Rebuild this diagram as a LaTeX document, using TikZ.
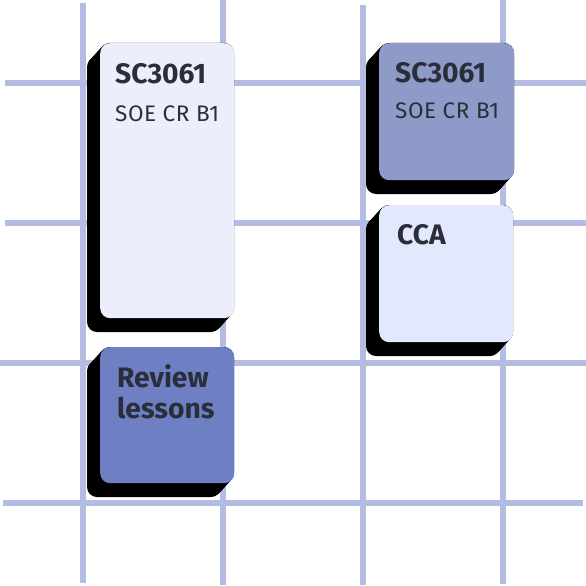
\documentclass[tikz,border=0pt]{standalone}
\usepackage{fontspec}
\setmainfont{Fira Sans}
\definecolor{gridc}{HTML}{B4BCE4}
\definecolor{fillA}{HTML}{ECEEFB}
\definecolor{fillB}{HTML}{8E9BC9}
\definecolor{fillC}{HTML}{E4E8FD}
\definecolor{fillD}{HTML}{6E7FC3}
\definecolor{txt}{HTML}{2A2E39}
\begin{document}
\begin{tikzpicture}[x=1pt,y=-1pt,
  gridline/.style={draw=gridc,line width=6pt},
  card/.style={rounded corners=10pt,inner sep=0pt,anchor=north west,draw=none},
  ttl/.style={anchor=base west,inner sep=0pt,text=txt,font=\fontsize{28.2}{33}\selectfont\bfseries},
  sub/.style={anchor=base west,inner sep=0pt,text=txt,font=\fontsize{22.5}{26}\selectfont\addfontfeature{LetterSpace=2.5}}]
\useasboundingbox (0,0) rectangle (586,586);
% grid
\draw[gridline] (83,3) -- (83,583);
\draw[gridline] (223,0) -- (223,585);
\draw[gridline] (363,5) -- (363,585);
\draw[gridline] (503,0) -- (503,584);
\draw[gridline] (5,82.5) -- (586,82.5);
\draw[gridline] (5,222.5) -- (586,222.5);
\draw[gridline] (0,362.5) -- (586,362.5);
\draw[gridline] (3,502.5) -- (583,502.5);
% shadows (extrusion)
\foreach \t in {0,0.5,...,13}{
  \fill[black,rounded corners=10pt] (100-\t,43+\t*14/13) rectangle (234-\t,318+\t*14/13);
  \fill[black,rounded corners=10pt] (379-\t,43+\t*14/13) rectangle (514-\t,180+\t*14/13);
  \fill[black,rounded corners=10pt] (379-\t,205+\t*14/13) rectangle (513-\t,342+\t*14/13);
  \fill[black,rounded corners=10pt] (100-\t,347+\t*14/13) rectangle (234-\t,483+\t*14/13);
}
% cards
\node[card,fill=fillA,minimum width=134pt,minimum height=275pt] (c1) at (100,43) {};
\node[card,fill=fillB,minimum width=135pt,minimum height=137pt] (c2) at (379,43) {};
\node[card,fill=fillC,minimum width=134pt,minimum height=137pt] (c3) at (379,205) {};
\node[card,fill=fillD,minimum width=134pt,minimum height=136pt] (c4) at (100,347) {};
% texts
\node[ttl] (t1) at (115,84) {SC3061};
\node[sub] (s1) at (115,121) {SOE CR B1};
\node[ttl] (t2) at (395,82) {SC3061};
\node[sub] (s2) at (395,118) {SOE CR B1};
\node[ttl] (t3) at (397,244) {CCA};
\node[ttl] (t4) at (117,387) {Review};
\node[ttl] (t5) at (117,418) {lessons};
\end{tikzpicture}
\end{document}
